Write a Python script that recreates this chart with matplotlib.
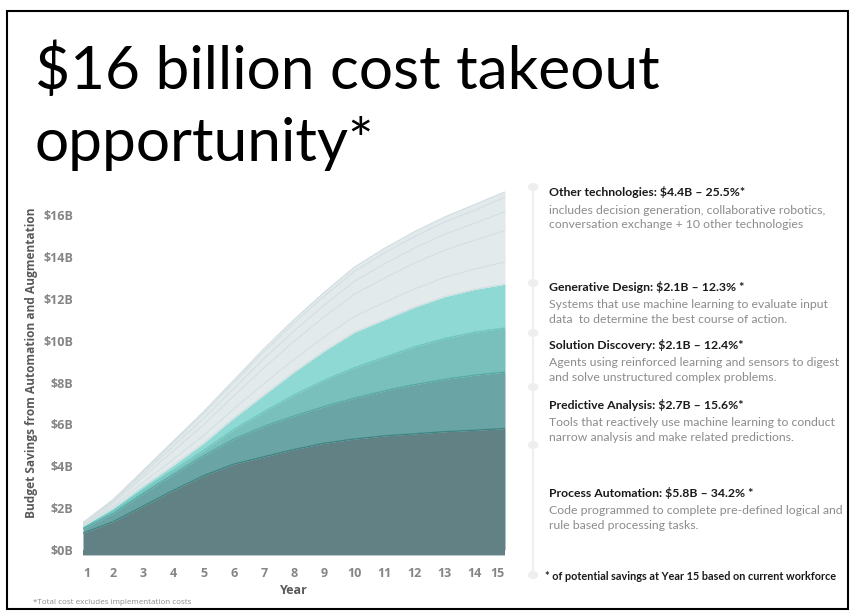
import matplotlib
matplotlib.use('Agg')
import matplotlib.pyplot as plt
from matplotlib.patches import Rectangle, Circle
from matplotlib.lines import Line2D

W, H = 853, 612

# ---------------- data ----------------
years = list(range(1, 16))
process_automation = [0.8, 1.35, 2.1, 2.85, 3.55, 4.1, 4.45, 4.8, 5.1, 5.3, 5.45, 5.55, 5.65, 5.72, 5.8]
predictive_analysis = [0.2, 0.4, 0.6, 0.75, 0.95, 1.2, 1.45, 1.6, 1.75, 1.95, 2.15, 2.35, 2.5, 2.63, 2.7]
solution_discovery = [0.05, 0.1, 0.15, 0.2, 0.25, 0.45, 0.7, 1.0, 1.25, 1.45, 1.6, 1.8, 1.95, 2.05, 2.1]
generative_design = [0.1, 0.15, 0.2, 0.25, 0.35, 0.55, 0.8, 1.1, 1.4, 1.7, 1.8, 1.9, 2.0, 2.05, 2.1]
other_tech_1 = [0.04, 0.1, 0.18, 0.28, 0.36, 0.43, 0.53, 0.6, 0.67, 0.75, 0.82, 0.87, 0.92, 0.97, 1.05]
other_tech_2 = [0.05, 0.14, 0.26, 0.4, 0.52, 0.62, 0.76, 0.86, 0.96, 1.06, 1.16, 1.23, 1.3, 1.38, 1.5]
other_tech_3 = [0.03, 0.08, 0.15, 0.23, 0.3, 0.36, 0.44, 0.5, 0.56, 0.62, 0.68, 0.72, 0.76, 0.81, 0.9]
other_tech_4 = [0.02, 0.06, 0.11, 0.17, 0.23, 0.27, 0.33, 0.38, 0.43, 0.47, 0.52, 0.55, 0.58, 0.62, 0.7]
other_tech_5 = [0.01, 0.02, 0.05, 0.07, 0.09, 0.12, 0.14, 0.16, 0.18, 0.2, 0.22, 0.23, 0.24, 0.27, 0.25]

ytick_values = [0, 2, 4, 6, 8, 10, 12, 14, 16]
ytick_labels = ['$0B', '$2B', '$4B', '$6B', '$8B', '$10B', '$12B', '$14B', '$16B']
xtick_labels = [str(y) for y in years]

title_lines = ['$16 billion cost takeout', 'opportunity*']
legend_items = [
    ('Other technologies: $4.4B \u2013 25.5%*',
     ['includes decision generation, collaborative robotics,',
      'conversation exchange + 10 other technologies']),
    ('Generative Design: $2.1B \u2013 12.3% *',
     ['Systems that use machine learning to evaluate input',
      'data  to determine the best course of action.']),
    ('Solution Discovery: $2.1B \u2013 12.4%*',
     ['Agents using reinforced learning and sensors to digest',
      'and solve unstructured complex problems.']),
    ('Predictive Analysis: $2.7B \u2013 15.6%*',
     ['Tools that reactively use machine learning to conduct',
      'narrow analysis and make related predictions.']),
    ('Process Automation: $5.8B \u2013 34.2% *',
     ['Code programmed to complete pre-defined logical and',
      'rule based processing tasks.']),
]
footnote_right = '* of potential savings at Year 15 based on current workforce'
footnote_left = '*Total cost excludes implementation costs'

# ---------------- styles ----------------
C_PA = '#628185'
C_PR = '#6aa4a4'
C_SD = '#79bfbb'
C_GD = '#8ed9d3'
C_OT = '#e2eaec'
TICK_C = '#858585'

fig = plt.figure(figsize=(W / 100, H / 100), dpi=100)
fig.patch.set_facecolor('white')


def fx(px):
    return px / W


def fy(py):
    return 1 - py / H


px_per_unit = (550 - 215) / 16.0
ymin = -(556 - 550) / px_per_unit
ymax = (550 - 183) / px_per_unit

ax = fig.add_axes([fx(83), fy(556), fx(505) - fx(83), fy(183) - fy(556)])
ax.set_xlim(1, 15)
ax.set_ylim(ymin, ymax)

layers = [
    (process_automation, C_PA, '#3f8584'),
    (predictive_analysis, C_PR, '#58aaa5'),
    (solution_discovery, C_SD, '#6ec6bf'),
    (generative_design, C_GD, '#d4dfe2'),
    (other_tech_1, C_OT, '#d6e0e3'),
    (other_tech_2, C_OT, '#d6e0e3'),
    (other_tech_3, C_OT, '#d6e0e3'),
    (other_tech_4, C_OT, '#d6e0e3'),
    (other_tech_5, C_OT, '#d3dee1'),
]

bottom = [0.0] * len(years)
tops = []
for vals, col, ecol in layers:
    top = [b + v for b, v in zip(bottom, vals)]
    tops.append((top, ecol))
    ax.fill_between(years, bottom, top, color=col, linewidth=0, zorder=2)
    bottom = top
ax.fill_between(years, [ymin] * len(years), [0] * len(years), color=C_PA, linewidth=0, zorder=2)
for top, ecol in reversed(tops):
    ax.plot(years, top, color=ecol, linewidth=1.0, zorder=3, solid_capstyle='butt')
ax.plot([1, 15], [ymin, ymin], color='#c9d6d8', linewidth=1.2, zorder=4)

for s in ax.spines.values():
    s.set_visible(False)
ax.set_yticks(ytick_values)
ax.set_yticklabels(ytick_labels)
ax.set_xticks(years)
ax.set_xticklabels(xtick_labels)
ax.tick_params(axis='both', length=0, colors=TICK_C)
ax.tick_params(axis='y', pad=7)
ax.tick_params(axis='x', pad=8)
for lab in ax.get_yticklabels() + ax.get_xticklabels():
    lab.set_fontfamily('Open Sans')
    lab.set_fontsize(9)
    lab.set_fontweight('bold')
    lab.set_color(TICK_C)
xl = ax.get_xticklabels()
xl[0].set_ha('left')
xl[-1].set_ha('right')
ax.set_facecolor('none')

fig.text(fx(32), fy(363), 'Budget Savings from Automation and Augmentation', rotation=90,
         ha='center', va='center', fontsize=8.6, fontfamily='Open Sans', fontweight='bold',
         color='#595959')
fig.text(fx(294), fy(591), 'Year', ha='center', va='center', fontsize=9,
         fontfamily='Open Sans', fontweight='bold', color='#595959')
fig.text(fx(33), fy(602), footnote_left, ha='left', va='center', fontsize=5.8,
         fontfamily='Open Sans', color='#8a8a8a')

# title
fig.text(fx(35), fy(89), title_lines[0], ha='left', va='baseline', fontsize=43.5,
         fontfamily='Lato', color='black')
fig.text(fx(35), fy(161), title_lines[1], ha='left', va='baseline', fontsize=43.5,
         fontfamily='Lato', color='black')

# right panel timeline
fig.add_artist(Line2D([fx(533), fx(533)], [fy(185), fy(578)], color='#efefef', linewidth=1.5))
for yy in [187, 283, 333, 387, 445, 575]:
    fig.add_artist(Circle((fx(533), fy(yy)), radius=4.5 / W, color='#eeeeee',
                          transform=fig.transFigure))

head_y = [192, 287, 345, 405, 493]
for (head, desc), hy in zip(legend_items, head_y):
    fig.text(fx(549), fy(hy), head, ha='left', va='center', fontsize=8.8,
             fontfamily='Lato', fontweight='bold', color='#1a1a1a')
    for i, d in enumerate(desc):
        fig.text(fx(549), fy(hy + 18 + 14.5 * i), d, ha='left', va='center', fontsize=8.85,
                 fontfamily='Lato', color='#8c8c8c')
fig.text(fx(545), fy(576), footnote_right, ha='left', va='center', fontsize=7.85,
         fontfamily='Lato', fontweight='bold', color='#1a1a1a')

# frame
fig.add_artist(Rectangle((fx(7), fy(609)), fx(848) - fx(7), fy(11) - fy(609), fill=False,
                         edgecolor='black', linewidth=1.5, transform=fig.transFigure))

fig.savefig('out.png', dpi=100)
